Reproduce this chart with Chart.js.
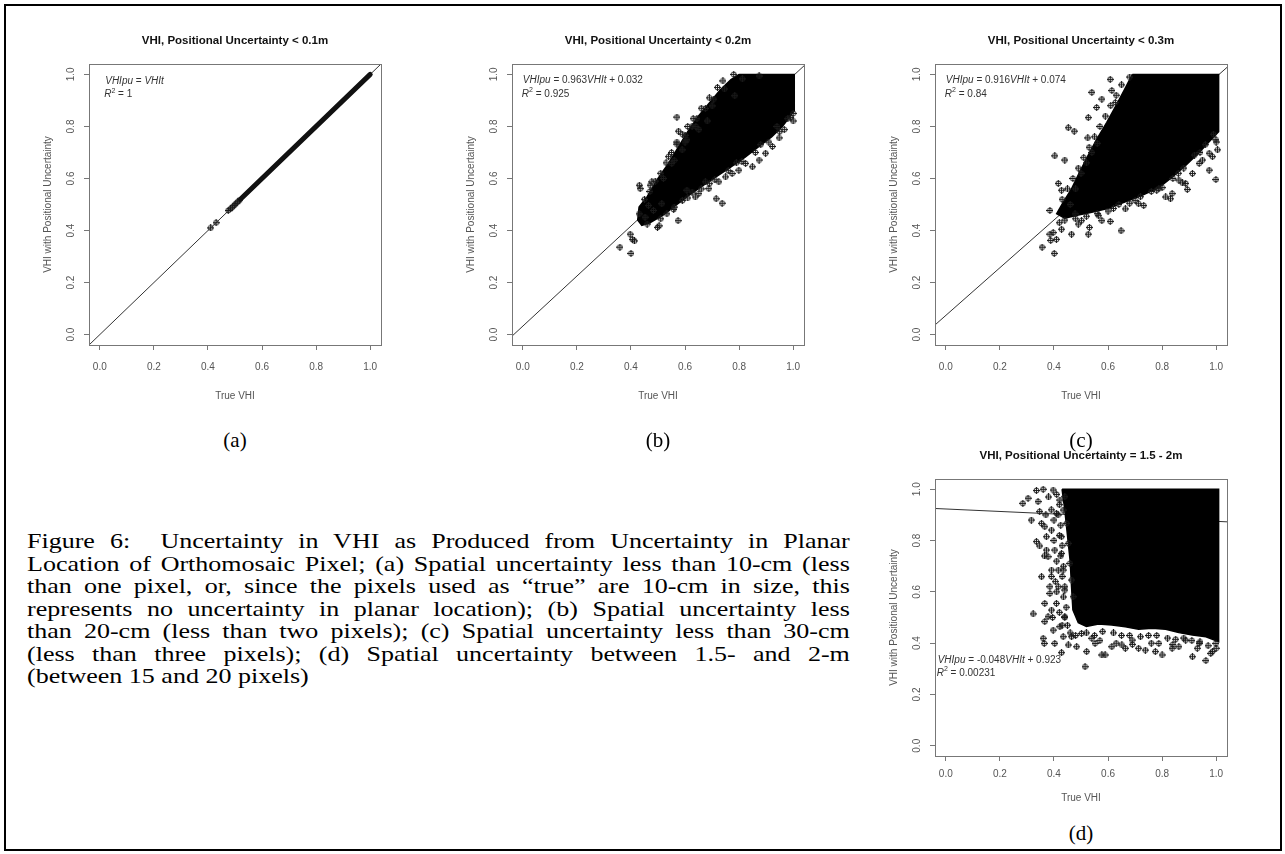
<!DOCTYPE html>
<html>
<head>
<meta charset="utf-8">
<title>Figure 6 - VHI positional uncertainty</title>
<script src="https://cdn.jsdelivr.net/npm/chart.js@4"></script>
<style>
  html, body { margin: 0; padding: 0; background: #fff; }
  body { width: 1285px; height: 854px; position: relative; overflow: hidden; }
  .frame { position: absolute; left: 4px; top: 4px; width: 1278px; height: 847px; border: 2px solid #000; box-sizing: border-box; }
  canvas { position: absolute; }
  .sub { position: absolute; font-family: "Liberation Serif", "Times New Roman", serif; font-size: 21px; width: 60px; text-align: center; color: #000; }
  .caption { position: absolute; left: 27px; top: 530px; width: 680px; transform: scaleX(1.21); transform-origin: 0 0;
             font-family: "Liberation Serif", "Times New Roman", serif; font-size: 21.5px; line-height: 22.5px; color: #000; }
  .caption div { text-align: justify; text-align-last: justify; white-space: nowrap; }
  .caption div.last { text-align-last: left; }
</style>
</head>
<body>
<div class="frame"></div>
<canvas id="chartA" width="364" height="383" style="left:27px; top:24px;"></canvas>
<canvas id="chartB" width="364" height="383" style="left:450px; top:24px;"></canvas>
<canvas id="chartC" width="364" height="383" style="left:873px; top:24px;"></canvas>
<canvas id="chartD" width="364" height="379" style="left:873px; top:439px;"></canvas>

<div class="sub" style="left:205px; top:428px;">(a)</div>
<div class="sub" style="left:628px; top:428px;">(b)</div>
<div class="sub" style="left:1051px; top:428px;">(c)</div>
<div class="sub" style="left:1051px; top:821px;">(d)</div>

<div class="caption">
  <div>Figure 6:&nbsp; Uncertainty in VHI as Produced from Uncertainty in Planar</div>
  <div>Location of Orthomosaic Pixel; (a) Spatial uncertainty less than 10-cm (less</div>
  <div>than one pixel, or, since the pixels used as “true” are 10-cm in size, this</div>
  <div>represents no uncertainty in planar location); (b) Spatial uncertainty less</div>
  <div>than 20-cm (less than two pixels); (c) Spatial uncertainty less than 30-cm</div>
  <div>(less than three pixels); (d) Spatial uncertainty between 1.5- and 2-m</div>
  <div class="last">(between 15 and 20 pixels)</div>
</div>

<script>
// --- Axis setup (R style: 4% padding around 0..1) ---
const axisMin = -0.04;
const axisMax = 1.04;
const tickValues = [0, 0.2, 0.4, 0.6, 0.8, 1.0];
const tickLabels = ['0.0', '0.2', '0.4', '0.6', '0.8', '1.0'];
const xTitle = 'True VHI';
const yTitle = 'VHI with Positional Uncertainty';

// --- Panel (a): < 0.1m ---
const aTitle = 'VHI, Positional Uncertainty < 0.1m';
const aPointX = [0.41, 0.43, 0.475, 0.483, 0.49, 0.497, 0.503, 0.51, 0.517];
const aPointY = [0.41, 0.43, 0.477, 0.483, 0.49, 0.497, 0.503, 0.51, 0.517];
const aBandX = [0.52, 1.0];   // solid run of overlapping points
const aBandY = [0.52, 1.0];
const aFitX = [-0.04, 1.04];
const aFitY = [-0.04, 1.04];

// --- Panel (b): < 0.2m ---
const bTitle = 'VHI, Positional Uncertainty < 0.2m';
const bCloudX = [0.80, 1.004, 1.004, 0.96, 0.92, 0.87, 0.82, 0.77, 0.72, 0.67, 0.62, 0.57, 0.52, 0.47, 0.44, 0.425, 0.43, 0.46, 0.50, 0.54, 0.575, 0.61, 0.65, 0.69, 0.73, 0.77, 0.80];
const bCloudY = [1.0, 1.0, 0.86, 0.80, 0.76, 0.72, 0.68, 0.645, 0.61, 0.575, 0.54, 0.50, 0.46, 0.43, 0.42, 0.44, 0.49, 0.53, 0.60, 0.66, 0.72, 0.78, 0.84, 0.89, 0.94, 0.98, 1.0];
const bPointX = [0.359, 0.400, 0.397, 0.405, 0.413, 0.431, 0.434, 0.430, 0.452, 0.471, 0.477, 0.498, 0.504, 0.533, 0.558, 0.574, 0.570, 0.570, 0.576, 0.601, 0.607, 0.644, 0.651, 0.675, 0.682, 0.706, 0.746, 0.784, 0.715, 0.737, 0.638, 0.651, 0.607, 0.675, 0.725, 0.799, 0.849, 0.874, 0.923, 0.948, 0.967, 1.0, 0.991, 0.898, 0.824, 0.774, 0.750, 0.688, 0.626, 0.465, 0.483, 0.514, 0.539, 0.551, 0.589, 0.626, 0.700, 0.812, 0.874,
    0.45, 0.47, 0.49, 0.51, 0.53, 0.55, 0.57, 0.59, 0.61, 0.63, 0.66, 0.69, 0.72, 0.74, 0.78, 0.52, 0.56, 0.60, 0.64,
    0.98, 0.95, 0.91, 0.86, 0.81, 0.76, 0.71, 0.66, 0.61, 0.56, 0.51, 0.46, 0.88, 0.79, 0.69, 0.59, 0.94, 1.0];
const bPointY = [0.336, 0.312, 0.386, 0.366, 0.360, 0.574, 0.561, 0.464, 0.451, 0.574, 0.587, 0.412, 0.418, 0.464, 0.481, 0.438, 0.836, 0.732, 0.782, 0.766, 0.749, 0.830, 0.788, 0.869, 0.821, 0.905, 0.944, 0.918, 0.522, 0.505, 0.529, 0.542, 0.555, 0.587, 0.587, 0.632, 0.645, 0.671, 0.723, 0.756, 0.788, 0.821, 0.834, 0.697, 0.658, 0.619, 0.606, 0.561, 0.548, 0.496, 0.477, 0.503, 0.684, 0.658, 0.710, 0.801, 0.879, 0.983, 0.994,
    0.52, 0.55, 0.59, 0.62, 0.66, 0.70, 0.74, 0.77, 0.80, 0.83, 0.87, 0.91, 0.95, 0.975, 1.0, 0.60, 0.67, 0.74, 0.80,
    0.83, 0.78, 0.74, 0.70, 0.665, 0.63, 0.595, 0.56, 0.525, 0.49, 0.445, 0.425, 0.73, 0.66, 0.58, 0.515, 0.80, 0.85];
const bFitX = [-0.04, 1.04];
const bFitY = [-0.006, 1.033];

// --- Panel (c): < 0.3m ---
const cTitle = 'VHI, Positional Uncertainty < 0.3m';
const cCloudX = [0.69, 1.009, 1.009, 0.986, 0.937, 0.887, 0.837, 0.788, 0.726, 0.664, 0.602, 0.54, 0.49, 0.44, 0.41, 0.435, 0.465, 0.495, 0.527, 0.558, 0.595, 0.632, 0.66, 0.68, 0.69];
const cCloudY = [1.0, 1.0, 0.78, 0.755, 0.70, 0.65, 0.605, 0.565, 0.535, 0.51, 0.485, 0.47, 0.46, 0.447, 0.465, 0.51, 0.56, 0.625, 0.69, 0.75, 0.815, 0.885, 0.94, 0.98, 1.0];
const cPointX = [0.356, 0.401, 0.388, 0.385, 0.397, 0.385, 0.403, 0.440, 0.428, 0.416, 0.453, 0.475, 0.527, 0.525, 0.540, 0.558, 0.577, 0.608, 0.614, 0.627, 0.648, 0.608, 0.577, 0.527, 0.531, 0.502, 0.664, 0.732, 0.788, 0.831, 0.837, 0.893, 0.887, 0.875, 0.912, 0.974, 0.999, 0.986, 1.005, 0.999, 0.937, 0.813, 0.465, 0.490, 0.428, 0.409, 0.478, 0.565, 0.713, 0.862, 0.949, 0.974,
    0.43, 0.45, 0.47, 0.49, 0.51, 0.53, 0.55, 0.57, 0.59, 0.61, 0.63, 0.65, 0.68, 0.46, 0.48, 0.50, 0.52, 0.54, 0.56,
    0.99, 0.96, 0.92, 0.88, 0.84, 0.80, 0.76, 0.72, 0.68, 0.64, 0.60, 0.56, 0.52, 0.48, 0.44, 0.42, 0.94, 0.86, 0.78, 0.70, 0.62, 1.0];
const cPointY = [0.336, 0.312, 0.362, 0.386, 0.392, 0.477, 0.687, 0.671, 0.555, 0.581, 0.795, 0.782, 0.834, 0.756, 0.931, 0.873, 0.905, 0.981, 0.938, 0.892, 0.399, 0.435, 0.438, 0.386, 0.412, 0.438, 0.483, 0.496, 0.561, 0.522, 0.542, 0.558, 0.581, 0.583, 0.619, 0.632, 0.596, 0.684, 0.710, 0.749, 0.658, 0.529, 0.386, 0.425, 0.405, 0.366, 0.464, 0.457, 0.503, 0.594, 0.671, 0.697,
    0.52, 0.56, 0.60, 0.64, 0.68, 0.72, 0.76, 0.80, 0.84, 0.88, 0.92, 0.96, 0.99, 0.50, 0.56, 0.62, 0.66, 0.70, 0.735,
    0.77, 0.73, 0.69, 0.64, 0.60, 0.565, 0.55, 0.53, 0.505, 0.50, 0.475, 0.465, 0.455, 0.445, 0.44, 0.43, 0.70, 0.62, 0.555, 0.515, 0.485, 0.74];
const cFitX = [-0.04, 1.04];
const cFitY = [0.037, 1.027];

// --- Panel (d): 1.5 - 2m ---
const dTitle = 'VHI, Positional Uncertainty = 1.5 - 2m';
const dCloudX = [0.43, 1.009, 1.009, 0.962, 0.912, 0.862, 0.813, 0.763, 0.713, 0.664, 0.614, 0.565, 0.52, 0.49, 0.47, 0.465, 0.46, 0.45, 0.44, 0.43];
const dCloudY = [1.0, 1.0, 0.406, 0.425, 0.432, 0.441, 0.454, 0.458, 0.454, 0.464, 0.471, 0.475, 0.465, 0.48, 0.53, 0.62, 0.72, 0.82, 0.92, 1.0];
const dPointX = [0.285, 0.304, 0.335, 0.360, 0.341, 0.347, 0.316, 0.335, 0.347, 0.354, 0.366, 0.372, 0.372, 0.378, 0.391, 0.354, 0.385, 0.385, 0.366, 0.391, 0.378, 0.323, 0.366, 0.360, 0.364, 0.397, 0.403, 0.428, 0.453, 0.484, 0.515, 0.521, 0.552, 0.577, 0.589, 0.614, 0.651, 0.664, 0.713, 0.738, 0.775, 0.800, 0.837, 0.862, 0.912, 0.962, 0.986, 0.999, 0.937, 0.887, 0.409, 0.416, 0.403, 0.391, 0.409, 0.422, 0.397, 0.416, 0.428, 0.440, 0.422, 0.434, 0.465, 0.502, 0.540, 0.689, 0.788, 0.440, 0.447, 0.453, 0.459, 0.465, 0.471, 0.440, 0.434, 0.428, 0.434,
    0.41, 0.42, 0.415, 0.425, 0.42, 0.43, 0.425, 0.435, 0.43, 0.44, 0.435, 0.445, 0.44, 0.45, 0.46, 0.48, 0.39, 0.40, 0.40, 0.41, 0.405, 0.41, 0.42, 0.43, 0.395, 0.38, 0.37, 0.365, 0.39,
    0.52, 0.55, 0.58, 0.62, 0.65, 0.68, 0.72, 0.75, 0.78, 0.82, 0.85, 0.88, 0.91, 0.94, 0.97, 1.0, 0.57, 0.63, 0.69, 0.76, 0.84, 0.93, 0.98];
const dPointY = [0.945, 0.965, 0.995, 1.0, 0.952, 0.913, 0.880, 0.796, 0.779, 0.867, 0.854, 0.815, 0.763, 0.737, 0.685, 0.659, 0.620, 0.594, 0.555, 0.529, 0.503, 0.514, 0.484, 0.419, 0.399, 0.451, 0.399, 0.363, 0.393, 0.386, 0.308, 0.367, 0.399, 0.354, 0.354, 0.386, 0.393, 0.380, 0.380, 0.373, 0.367, 0.354, 0.380, 0.386, 0.347, 0.332, 0.367, 0.399, 0.399, 0.412, 0.555, 0.685, 0.763, 0.841, 0.906, 0.958, 0.997, 0.620, 0.750, 0.503, 0.464, 0.425, 0.425, 0.438, 0.419, 0.412, 0.399, 0.971, 0.867, 0.789, 0.711, 0.646, 0.581, 0.607, 0.685, 0.815, 0.919,
    0.98, 0.94, 0.90, 0.86, 0.82, 0.78, 0.74, 0.70, 0.66, 0.62, 0.58, 0.54, 0.50, 0.47, 0.44, 0.43, 0.92, 0.88, 0.80, 0.72, 0.64, 0.60, 0.52, 0.47, 0.50, 0.97, 0.90, 0.74, 0.66,
    0.44, 0.43, 0.445, 0.44, 0.43, 0.43, 0.425, 0.43, 0.43, 0.42, 0.415, 0.42, 0.41, 0.405, 0.39, 0.38, 0.41, 0.40, 0.395, 0.40, 0.395, 0.38, 0.36];
const dFitX = [-0.04, 1.04];
const dFitY = [0.925, 0.873];

// fitted equations shown on each panel (position in data units)
const aEq = { x: 0.02, y1: 0.973, y2: 0.922, slope: null, icpt: null, r2: '1' };
const bEq = { x: 0.0, y1: 0.977, y2: 0.925, slope: '0.963', icpt: '+0.032', r2: '0.925' };
const cEq = { x: 0.0, y1: 0.977, y2: 0.925, slope: '0.916', icpt: '+0.074', r2: '0.84' };
const dEq = { x: -0.03, y1: 0.332, y2: 0.282, slope: '-0.048', icpt: '+0.923', r2: '0.00231' };

// top row panels have a bit more room under the box
const topRow = { tickPad: 11, xTitleOff: 51 };
const bottomRow = { tickPad: 7, xTitleOff: 42 };

// --- helpers ---
const sans = '"Liberation Sans", Arial, sans-serif';
const inkColor = '#555';

function toPoints(xs, ys) {
    return xs.map((x, i) => ({ x: x, y: ys[i] }));
}

// little circle-plus marker like R's pch 10
function makeMarker() {
    const c = document.createElement('canvas');
    c.width = 7; c.height = 7;
    const g = c.getContext('2d');
    g.strokeStyle = '#1a1a1a';
    g.lineWidth = 1;
    g.beginPath(); g.arc(3.5, 3.5, 2.5, 0, Math.PI * 2); g.stroke();
    g.beginPath(); g.moveTo(3.5, 0); g.lineTo(3.5, 7); g.moveTo(0, 3.5); g.lineTo(7, 3.5); g.stroke();
    return c;
}
const marker = makeMarker();

function drawEquation(ctx, x, y, eq) {
    // one line: VHIpu = [slope]VHIt [icpt]
    const it = 'italic 10px ' + sans;
    const up = '10px ' + sans;
    const parts = [[ 'VHIpu', it ], [ ' = ', up ]];
    if (eq.slope) parts.push([ eq.slope, up ]);
    parts.push([ 'VHIt', it ]);
    if (eq.icpt) {
        parts.push([ ' + ', up ]);
        parts.push([ eq.icpt.slice(1), up ]);
    }
    let cx = x;
    ctx.textBaseline = 'middle';
    ctx.textAlign = 'left';
    parts.forEach(p => {
        ctx.font = p[1];
        ctx.fillText(p[0], cx, y);
        cx += ctx.measureText(p[0]).width;
    });
}

function drawR2(ctx, x, y, r2) {
    ctx.textBaseline = 'middle';
    ctx.textAlign = 'left';
    ctx.font = 'italic 10px ' + sans;
    ctx.fillText('R', x, y);
    let cx = x + ctx.measureText('R').width;
    ctx.font = '7px ' + sans;
    ctx.fillText('2', cx, y - 4);
    cx += ctx.measureText('2').width;
    ctx.font = '10px ' + sans;
    ctx.fillText(' = ' + r2, cx, y);
}

// R-like decorations: box, title, rotated y labels, axis titles, equation
const rDecor = {
    id: 'rDecor',
    afterDraw(chart, args, opts) {
        const ctx = chart.ctx;
        const area = chart.chartArea;
        const xs = chart.scales.x;
        const ys = chart.scales.y;
        ctx.save();
        ctx.strokeStyle = '#777';
        ctx.lineWidth = 1;
        ctx.strokeRect(Math.round(area.left) + 0.5, Math.round(area.top) + 0.5, Math.round(area.right - area.left), Math.round(area.bottom - area.top));

        const midX = (area.left + area.right) / 2;
        const midY = (area.top + area.bottom) / 2;
        ctx.fillStyle = '#111';
        ctx.font = 'bold 11.5px ' + sans;
        ctx.textAlign = 'center';
        ctx.textBaseline = 'middle';
        ctx.fillText(opts.title, midX, area.top - 23);

        ctx.fillStyle = inkColor;
        ctx.font = '10px ' + sans;
        ctx.fillText(xTitle, midX, area.bottom + opts.row.xTitleOff);

        // y tick labels parallel to axis
        tickValues.forEach((v, i) => {
            ctx.save();
            ctx.translate(area.left - 18, ys.getPixelForValue(v));
            ctx.rotate(-Math.PI / 2);
            ctx.fillText(tickLabels[i], 0, 0);
            ctx.restore();
        });
        ctx.save();
        ctx.translate(area.left - 41, midY);
        ctx.rotate(-Math.PI / 2);
        ctx.fillText(yTitle, 0, 0);
        ctx.restore();

        ctx.fillStyle = '#333';
        const ex = xs.getPixelForValue(opts.eq.x);
        drawEquation(ctx, ex, ys.getPixelForValue(opts.eq.y1), opts.eq);
        drawR2(ctx, ex - 1, ys.getPixelForValue(opts.eq.y2), opts.eq.r2);
        ctx.restore();
    }
};

function axisOptions(isX, row) {
    return {
        type: 'linear',
        position: isX ? 'bottom' : 'left',
        min: axisMin,
        max: axisMax,
        afterBuildTicks: s => { s.ticks = tickValues.map(v => ({ value: v })); },
        afterFit: s => { if (isX) s.height = 62; else s.width = 62; },
        grid: { drawOnChartArea: false, drawTicks: true, tickLength: 5, color: '#777', lineWidth: 1 },
        border: { display: false },
        ticks: {
            display: isX,
            color: inkColor,
            font: { family: sans, size: 10 },
            padding: row.tickPad,
            maxRotation: 0,
            callback: (v, i) => tickLabels[i]
        }
    };
}

function fitLine(xs, ys) {
    return {
        type: 'scatter', data: toPoints(xs, ys), showLine: true,
        borderColor: '#333', borderWidth: 1, pointRadius: 0, fill: false
    };
}

function cloud(xs, ys) {
    return {
        type: 'scatter', data: toPoints(xs, ys), showLine: true, fill: 'shape',
        backgroundColor: '#000', borderColor: '#000', borderWidth: 1.5, pointRadius: 0, tension: 0
    };
}

function scatterPts(xs, ys) {
    return {
        type: 'scatter', data: toPoints(xs, ys), pointStyle: marker,
        pointRadius: 3.5, showLine: false
    };
}

function makePanel(id, title, eq, row, datasets) {
    return new Chart(document.getElementById(id), {
        type: 'scatter',
        data: { datasets: datasets },
        options: {
            responsive: false,
            animation: false,
            devicePixelRatio: 1,
            layout: { padding: { top: 40, right: 10, left: 0, bottom: 0 } },
            scales: { x: axisOptions(true, row), y: axisOptions(false, row) },
            plugins: {
                legend: { display: false },
                tooltip: { enabled: false },
                rDecor: { title: title, eq: eq, row: row }
            }
        },
        plugins: [rDecor]
    });
}

// first dataset is drawn on top, so the fit line goes last (hidden inside the clouds)
makePanel('chartA', aTitle, aEq, topRow, [
    {
        type: 'scatter', data: toPoints(aBandX, aBandY), showLine: true,
        borderColor: '#111', borderWidth: 5, borderCapStyle: 'round', pointRadius: 0
    },
    scatterPts(aPointX, aPointY),
    fitLine(aFitX, aFitY)
]);

makePanel('chartB', bTitle, bEq, topRow, [
    scatterPts(bPointX, bPointY),
    cloud(bCloudX, bCloudY),
    fitLine(bFitX, bFitY)
]);

makePanel('chartC', cTitle, cEq, topRow, [
    scatterPts(cPointX, cPointY),
    cloud(cCloudX, cCloudY),
    fitLine(cFitX, cFitY)
]);

makePanel('chartD', dTitle, dEq, bottomRow, [
    scatterPts(dPointX, dPointY),
    cloud(dCloudX, dCloudY),
    fitLine(dFitX, dFitY)
]);
</script>
</body>
</html>
